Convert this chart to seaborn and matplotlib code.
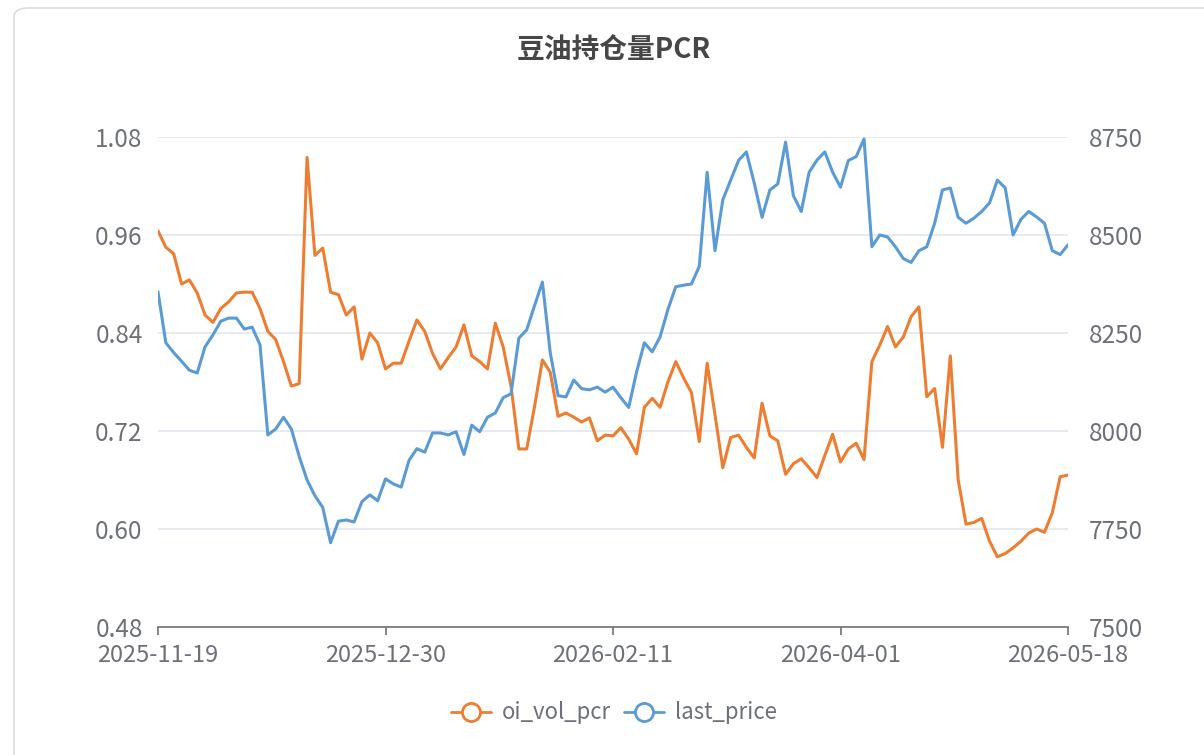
import numpy as np
import pandas as pd
import seaborn as sns
import matplotlib.pyplot as plt
from matplotlib.lines import Line2D
from matplotlib.patches import FancyBboxPatch

sns.set_theme(style='white')
plt.rcParams['font.family'] = ['Noto Sans CJK SC', 'DejaVu Sans']

title = '豆油持仓量PCR'
date_labels = ['2025-11-19', '2025-12-30', '2026-02-11', '2026-04-01', '2026-05-18']

oi_vol_pcr = [
    0.965, 0.945, 0.937, 0.900, 0.905, 0.889, 0.862, 0.853, 0.870, 0.878,
    0.889, 0.890, 0.890, 0.870, 0.842, 0.832, 0.805, 0.775, 0.778, 1.055,
    0.935, 0.944, 0.890, 0.887, 0.862, 0.872, 0.808, 0.840, 0.828, 0.796,
    0.803, 0.803, 0.830, 0.856, 0.842, 0.815, 0.796, 0.810, 0.823, 0.850,
    0.812, 0.805, 0.796, 0.852, 0.823, 0.775, 0.698, 0.698, 0.750, 0.807,
    0.792, 0.738, 0.742, 0.737, 0.731, 0.736, 0.708, 0.715, 0.714, 0.724,
    0.710, 0.692, 0.749, 0.760, 0.749, 0.780, 0.805, 0.785, 0.767, 0.707,
    0.803, 0.740, 0.675, 0.712, 0.715, 0.700, 0.687, 0.754, 0.714, 0.708,
    0.667, 0.680, 0.686, 0.675, 0.663, 0.690, 0.716, 0.682, 0.698, 0.705,
    0.685, 0.805, 0.825, 0.848, 0.823, 0.835, 0.860, 0.872, 0.762, 0.772,
    0.700, 0.812, 0.660, 0.606, 0.608, 0.613, 0.585, 0.566, 0.570, 0.577,
    0.585, 0.595, 0.600, 0.596, 0.620, 0.664, 0.666,
]

last_price = [
    8355, 8225, 8200, 8178, 8155, 8148, 8215, 8245, 8280, 8288,
    8288, 8260, 8265, 8220, 7990, 8005, 8035, 8005, 7935, 7875,
    7835, 7805, 7715, 7770, 7773, 7768, 7820, 7837, 7822, 7878,
    7865, 7857, 7925, 7955, 7946, 7995, 7995, 7990, 7998, 7940,
    8015, 7998, 8035, 8046, 8085, 8095, 8237, 8258, 8320, 8380,
    8200, 8090, 8087, 8130, 8108, 8105, 8112, 8099, 8112, 8085,
    8060, 8150, 8225, 8202, 8240, 8310, 8368, 8372, 8375, 8420,
    8660, 8460, 8590, 8640, 8690, 8712, 8633, 8545, 8615, 8630,
    8737, 8600, 8560, 8660, 8691, 8712, 8660, 8622, 8690, 8700,
    8745, 8470, 8500, 8495, 8470, 8440, 8430, 8460, 8470, 8530,
    8615, 8620, 8545, 8530, 8543, 8560, 8582, 8640, 8620, 8500,
    8540, 8560, 8546, 8530, 8460, 8450, 8475,
]

orange = '#ed7d31'
blue = '#5b9bd5'
label_color = '#6e7079'

df = pd.DataFrame({'idx': np.arange(len(oi_vol_pcr)),
                   'oi_vol_pcr': oi_vol_pcr,
                   'last_price': last_price})

fig = plt.figure(figsize=(12.04, 7.55), dpi=100)
card = FancyBboxPatch((14 / 1204, -0.05), 1.1, 1.05 - 8 / 755,
                      boxstyle='round,pad=0,rounding_size=0.012',
                      transform=fig.transFigure, facecolor='white',
                      edgecolor='#dcdcdc', linewidth=1.2, zorder=-10)
fig.patches.append(card)

ax = fig.add_axes([158 / 1204, 1 - 627 / 755, 910 / 1204, 490 / 755])
ax.set_facecolor('none')
ax2 = ax.twinx()

sns.lineplot(data=df, x='idx', y='oi_vol_pcr', ax=ax, color=orange,
             linewidth=2.2, solid_joinstyle='round', zorder=3)
sns.lineplot(data=df, x='idx', y='last_price', ax=ax2, color=blue,
             linewidth=2.2, solid_joinstyle='round', zorder=3)

n = len(oi_vol_pcr)
ax.set_xlim(0, n - 1)
ax.set_ylim(0.48, 1.08)
ax2.set_ylim(7500, 8750)
ax.set_yticks(np.arange(0.48, 1.081, 0.12))
ax.set_yticklabels([f'{v:.2f}' for v in np.arange(0.48, 1.081, 0.12)])
ax2.set_yticks(np.arange(7500, 8751, 250))
ax.set_xticks(np.linspace(0, n - 1, len(date_labels)))
ax.set_xticklabels(date_labels)

ax.grid(axis='y', color='#e0e6f1', linewidth=1.2)
ax.set_axisbelow(True)
for a in (ax, ax2):
    a.set_xlabel('')
    a.set_ylabel('')
    for s in ('top', 'left', 'right'):
        a.spines[s].set_visible(False)
ax2.spines['bottom'].set_visible(False)
ax.spines['bottom'].set_color(label_color)
ax.spines['bottom'].set_linewidth(1.2)

ax.tick_params(axis='x', colors=label_color, labelsize=17, length=6,
               width=1.2, direction='out', pad=6, bottom=True)
ax.tick_params(axis='y', colors=label_color, labelsize=17.5, length=0, pad=11)
ax2.tick_params(axis='y', colors=label_color, labelsize=17.5, length=0, pad=15)

fig.text(0.51, 1 - 50 / 755, title, ha='center', va='center', fontsize=20,
         fontweight='bold', color='#464646')

handles = [
    Line2D([], [], color=orange, linewidth=2, marker='o', markersize=13,
           markerfacecolor='white', markeredgewidth=2),
    Line2D([], [], color=blue, linewidth=2, marker='o', markersize=13,
           markerfacecolor='white', markeredgewidth=2),
]
fig.legend(handles, ['oi_vol_pcr', 'last_price'], loc='center',
           bbox_to_anchor=(0.51, 1 - 713 / 755), ncol=2, frameon=False,
           fontsize=16, handlelength=1.8, columnspacing=0.6,
           handletextpad=0.5, labelcolor=label_color)

fig.savefig('out.png', dpi=100)
